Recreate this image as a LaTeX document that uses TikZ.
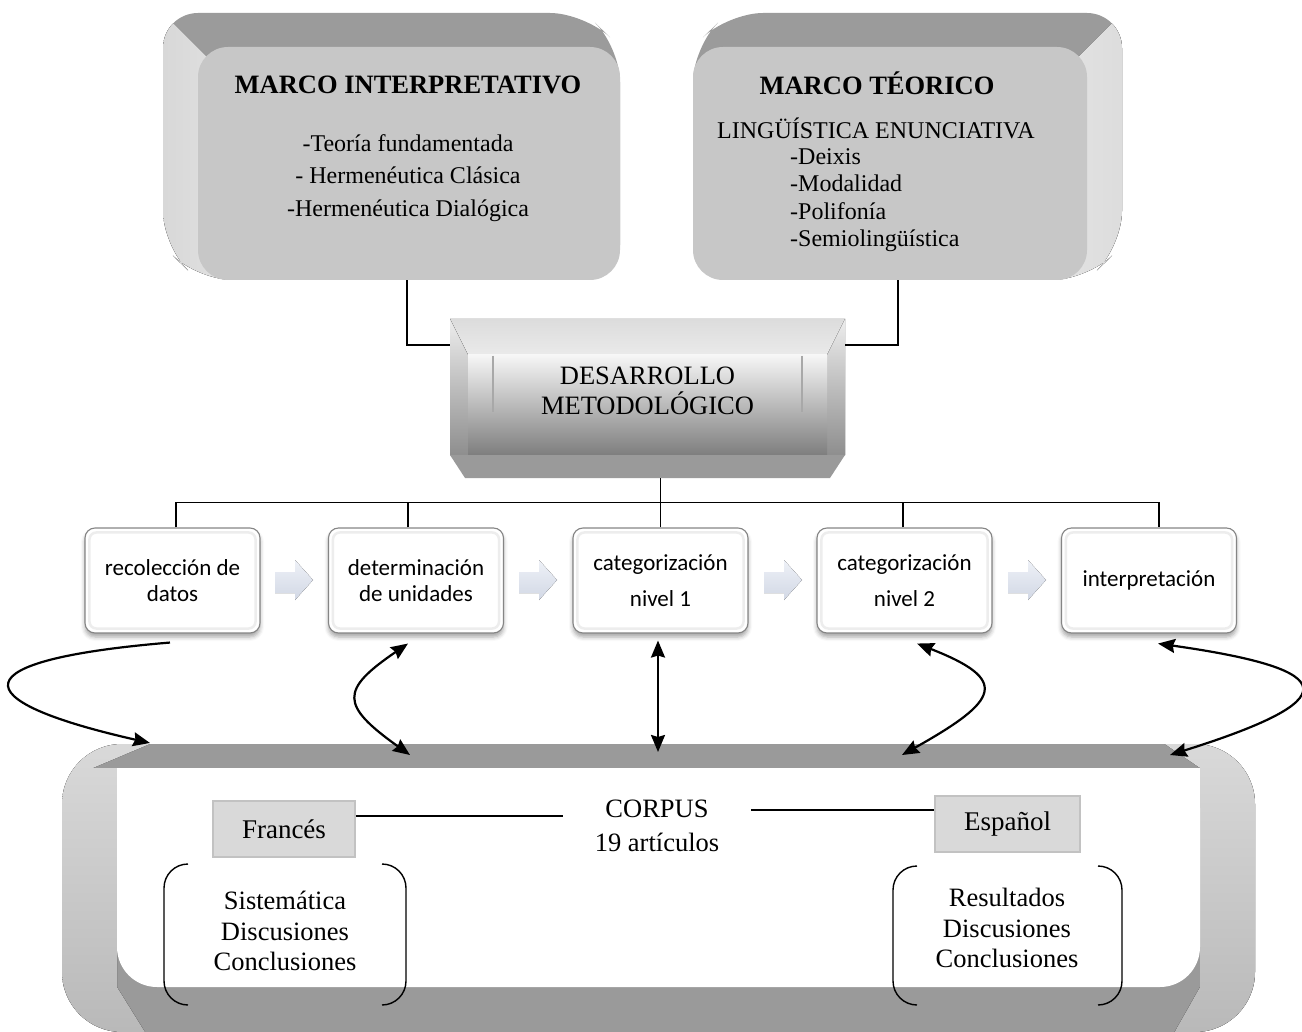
\documentclass[tikz,border=0pt]{standalone}
\usepackage{fontspec}
\setmainfont{Liberation Serif}
\newfontfamily\boxfont{Carlito}
\usetikzlibrary{arrows.meta,calc,shadows.blur}

\definecolor{topface}{HTML}{9B9B9B}
\definecolor{frontface}{HTML}{C7C7C7}
\definecolor{sidelight}{HTML}{E4E4E4}
\definecolor{sidedark}{HTML}{CFCFCF}
\definecolor{band}{HTML}{9A9A9A}
\definecolor{procedge}{HTML}{858585}
\definecolor{glow}{HTML}{EDEDED}
\definecolor{chevtop}{HTML}{EEF1F7}
\definecolor{chevbot}{HTML}{D2D8E5}
\definecolor{langfill}{HTML}{D9D9D9}
\definecolor{langedge}{HTML}{C2C2C2}
\definecolor{bevtopA}{HTML}{DCDCDC}
\definecolor{bevtopB}{HTML}{EAEAEA}
\definecolor{bevsideA}{HTML}{EDEDED}
\definecolor{bevsideB}{HTML}{8E8E8E}
\definecolor{bevfaceA}{HTML}{F6F6F6}
\definecolor{bevfaceB}{HTML}{7E7E7E}
\definecolor{bevline}{HTML}{A8A8A8}
\definecolor{frameA}{HTML}{DEDEDE}
\definecolor{frameB}{HTML}{B8B8B8}

\begin{document}
\begin{tikzpicture}[x=1pt,y=-1pt,
  front/.style={fill=frontface, rounded corners=30pt, inner sep=0pt},
  conn/.style={line width=1.5pt, black},
  link/.style={line width=2.2pt, black},
  tip/.style={-{Stealth[length=17pt,width=14pt,inset=2pt]}},
  bothtips/.style={{Stealth[length=17pt,width=14pt,inset=2pt]}-{Stealth[length=17pt,width=14pt,inset=2pt]}},
  title/.style={font=\bfseries\fontsize{26.5}{30}\selectfont},
  body/.style={align=center, font=\fontsize{24}{32.5}\selectfont},
  proc/.style={draw=procedge, fill=white, rounded corners=10pt, line width=1.1pt,
    minimum width=175pt, minimum height=105pt, align=center,
    font=\boxfont\fontsize{23}{26}\selectfont,
    blur shadow={shadow xshift=0pt, shadow yshift=-4pt, shadow blur radius=4pt, shadow opacity=35}},
  innerglow/.style={draw=glow, line width=2.5pt, rounded corners=7pt},
  chevron/.style={top color=chevtop, bottom color=chevbot},
  lang/.style={fill=langfill, draw=langedge, line width=1.5pt, minimum height=56pt,
    font=\fontsize{27}{30}\selectfont},
  listtext/.style={align=center, font=\fontsize{26.5}{30.5}\selectfont},
  bracket/.style={line width=1.4pt, rounded corners=24pt}
]
\useasboundingbox (0,0) rectangle (1302,1032);

% ---------- MARCO INTERPRETATIVO (extruded box, depth to the upper left)
\fill[topface, rounded corners=35pt] (163,13) -- (585,13) -- (620,47) -- (620,280) -- (198,280) -- (163,246) -- cycle;
\begin{scope}
  \clip[rounded corners=35pt] (163,13) -- (585,13) -- (620,47) -- (620,280) -- (198,280) -- (163,246) -- cycle;
  \fill[left color=sidedark, right color=sidelight] (100,-50) -- (250,100) -- (250,330) -- (100,330) -- cycle;
\end{scope}
\node[front, minimum width=422pt, minimum height=233pt] (mi) at (409,163.5) {};
\node[title] (mititle) at (408,85) {MARCO INTERPRETATIVO};
\node[body] (mibody) at (408,178) {-Teoría fundamentada\\- Hermenéutica Clásica\\-Hermenéutica Dialógica};

% ---------- MARCO TÉORICO (extruded box, depth to the upper right)
\fill[topface, rounded corners=35pt] (693,47) -- (728,13) -- (1122,13) -- (1122,246) -- (1087,280) -- (693,280) -- cycle;
\begin{scope}
  \clip[rounded corners=35pt] (693,47) -- (728,13) -- (1122,13) -- (1122,246) -- (1087,280) -- (693,280) -- cycle;
  \fill[left color=sidelight, right color=sidedark] (1160,-25) -- (1050,85) -- (1050,330) -- (1250,330) -- (1250,-25) -- cycle;
\end{scope}
\node[front, minimum width=394pt, minimum height=233pt] (mt) at (890,163.5) {};
\node[title] (mttitle) at (877,83) {MARCO TÉORICO};
\node[body] (mtsub) at (876,128) {LINGÜÍSTICA ENUNCIATIVA};
\node[anchor=west, inner sep=0pt, align=left, font=\fontsize{24}{27.5}\selectfont] (mtlist) at (790,200)
  {-Deixis\\-Modalidad\\-Polifonía\\-Semiolingüística};

% ---------- DESARROLLO METODOLÓGICO (bevelled button)
\fill[top color=bevtopA, bottom color=bevtopB] (450,319) -- (845,319) -- (827,355) -- (468,355) -- cycle;
\fill[top color=bevsideA, bottom color=bevsideB] (450,319) -- (468,355) -- (468,455) -- (450,455) -- cycle;
\fill[top color=bevsideA, bottom color=bevsideB] (845,319) -- (827,355) -- (827,455) -- (845,455) -- cycle;
\fill[top color=bevfaceA, bottom color=bevfaceB] (468,355) rectangle (827,455);
\fill[band] (450,455) -- (845,455) -- (830,478) -- (465,478) -- cycle;
\draw[bevline, line width=1.2pt] (493,356) -- (493,412) (802,356) -- (802,412);
\node[minimum width=395pt, minimum height=159pt, inner sep=0pt] (dm) at (647.5,398.5) {};
\node[align=center, font=\fontsize{26.5}{30}\selectfont] (dmtext) at (647.5,391) {DESARROLLO\\METODOLÓGICO};

\draw[conn] ($(mi.south)+(-2,0)$) |- ($(dm.north west)+(0,26)$);
\draw[conn] ($(mt.south)+(8,0)$) |- ($(dm.north east)+(0,26)$);

% ---------- process steps
\node[proc] (p1) at (172.5,580.5) {recolección de\\datos};
\node[proc] (p2) at (416,580.5) {determinación\\de unidades};
\node[proc] (p3) at (660.5,580.5) {categorización\\[10pt]nivel 1};
\node[proc] (p4) at (904.5,580.5) {categorización\\[10pt]nivel 2};
\node[proc] (p5) at (1149,580.5) {interpretación};
\foreach \p in {p1,p2,p3,p4,p5}
  \draw[innerglow] ($(\p.north west)+(5,5)$) rectangle ($(\p.south east)+(-5,-5)$);

\foreach \x in {275,519,764,1008}
  \fill[chevron] (\x,572) -- ++(20,0) -- ++(0,-12) -- ++(18,20) -- ++(-18,20) -- ++(0,-7) -- ++(-20,0) -- cycle;

\draw[conn] ($(p1.north)+(3.5,0)$) -- ++(0,-25) -| ($(p5.north)+(10,0)$);
\draw[conn] ($(p2.north)+(-8,0)$) -- ++(0,-25);
\draw[conn] (p3.north) -- (p3.north |- dm.south);
\draw[conn] ($(p4.north)+(-1.5,0)$) -- ++(0,-25);

% ---------- CORPUS (wide extruded frame)
\fill[band, rounded corners=60pt] (62,744) rectangle (1255,1032);
\begin{scope}
  \clip[rounded corners=60pt] (62,744) rectangle (1255,1032);
  \fill[top color=frameA, bottom color=frameB] (254,700) -- (93,768) -- (117,768) -- (117,987) -- (150,1040) -- (0,1040) -- (0,700) -- cycle;
  \fill[top color=frameA, bottom color=frameB] (1100,700) -- (1200,768) -- (1200,987) -- (1170,1040) -- (1320,1040) -- (1320,700) -- cycle;
\end{scope}
\fill[white, rounded corners=40pt] (117,768) rectangle (1200,987);
\fill[white] (117,768) rectangle (1200,830);
\node[minimum width=1193pt, minimum height=288pt, inner sep=0pt] (corpus) at (658.5,888) {};

\node[align=center, inner xsep=32pt, font=\fontsize{26.5}{34}\selectfont] (cp) at (657,826) {CORPUS\\19 artículos};
\node[lang, minimum width=142pt] (fr) at (284,829) {Francés};
\node[lang, minimum width=145pt] (es) at (1007.5,824) {Español};
\draw[conn] ($(fr.east)+(0,-13)$) -- ($(cp.west)+(0,-10)$);
\draw[conn] ($(cp.east)+(0,-16)$) -- ($(es.west)+(0,-14)$);

\node[listtext] (frlist) at (285,931) {Sistemática\\Discusiones\\Conclusiones};
\node[listtext] (eslist) at (1007,928) {Resultados\\Discusiones\\Conclusiones};
\draw[bracket] (188,864) -- (164,864) -- (164,1005) -- (188,1005);
\draw[bracket] (382,864) -- (406,864) -- (406,1005) -- (382,1005);
\draw[bracket] (917,866) -- (893,866) -- (893,1005) -- (917,1005);
\draw[bracket] (1098,866) -- (1122,866) -- (1122,1005) -- (1098,1005);

% ---------- links between steps and corpus
\coordinate (k1) at (150,743);
\coordinate (k2) at (410,755);
\coordinate (k3) at (658,752);
\coordinate (k4) at (902,755);
\coordinate (k5) at (1170,755);
\draw[link, tip] ($(p1.south)+(-2.5,9)$) .. controls (-40,660) and (-40,700) .. (k1);
\draw[link, bothtips] ($(p2.south)+(-8,10)$) .. controls (340,690) and (340,705) .. (k2);
\draw[link, bothtips] ($(p3.south)+(-2.5,7)$) -- (k3);
\draw[link, bothtips] ($(p4.south)+(12.5,10)$) .. controls (1010,680) and (1000,700) .. (k4);
\draw[link, bothtips] ($(p5.south)+(9,10)$) .. controls (1345,670) and (1345,700) .. (k5);
\end{tikzpicture}
\end{document}
